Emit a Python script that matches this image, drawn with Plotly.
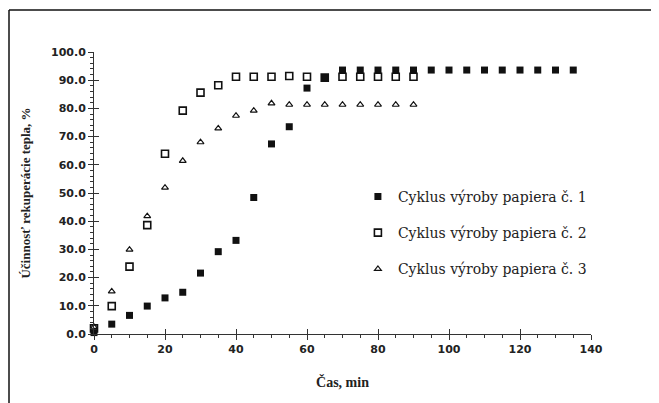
import plotly.graph_objects as go

time_1 = [0, 5, 10, 15, 20, 25, 30, 35, 40, 45, 50, 55, 60, 65, 70, 75, 80, 85, 90,
          95, 100, 105, 110, 115, 120, 125, 130, 135]
eff_1 = [0.5, 3.5, 6.6, 9.9, 12.8, 14.8, 21.6, 29.2, 33.2, 48.4, 67.4, 73.5, 87.2, 90.9,
         93.6, 93.6, 93.6, 93.6, 93.6, 93.6, 93.6, 93.6, 93.6, 93.6, 93.6, 93.6, 93.6, 93.6]

time_2 = [0, 5, 10, 15, 20, 25, 30, 35, 40, 45, 50, 55, 60, 65, 70, 75, 80, 85, 90]
eff_2 = [2.0, 9.9, 23.9, 38.6, 63.9, 79.2, 85.6, 88.2, 91.2, 91.2, 91.2, 91.5, 91.2, 90.9,
         91.2, 91.2, 91.2, 91.2, 91.2]

time_3 = [0, 5, 10, 15, 20, 25, 30, 35, 40, 45, 50, 55, 60, 65, 70, 75, 80, 85, 90]
eff_3 = [2.5, 15.1, 29.9, 41.8, 51.9, 61.4, 68.0, 72.9, 77.4, 79.2, 81.8, 81.3, 81.3, 81.3,
         81.3, 81.3, 81.3, 81.3, 81.3]

names = ["Cyklus výroby papiera č. 1", "Cyklus výroby papiera č. 2", "Cyklus výroby papiera č. 3"]

x_ticks = [0, 20, 40, 60, 80, 100, 120, 140]
y_ticks = [0, 10, 20, 30, 40, 50, 60, 70, 80, 90, 100]

fig = go.Figure()
fig.add_trace(go.Scatter(x=time_1, y=eff_1, mode="markers", name=names[0], legendgroup="1",
                         cliponaxis=False,
                         marker=dict(symbol="square", size=7, color="#111111")))
fig.add_trace(go.Scatter(x=time_2, y=eff_2, mode="markers", name=names[1], legendgroup="2",
                         cliponaxis=False,
                         marker=dict(symbol="square-open", size=7, color="#111111",
                                     line=dict(width=1.6))))
fig.add_trace(go.Scatter(x=time_3, y=eff_3, mode="markers", name=names[2], legendgroup="3",
                         cliponaxis=False,
                         marker=dict(symbol="triangle-up-open", size=6, color="#111111",
                                     line=dict(width=1.2))))
# dummy trace for overlay axes (inside ticks to make crossing ticks)
fig.add_trace(go.Scatter(x=[None], y=[None], xaxis="x2", yaxis="y2", showlegend=False,
                         hoverinfo="skip"))

tickfont = dict(family="DejaVu Sans", size=11, color="#222222", weight="bold")
axis_col = "#333333"

ML, MR, MT, MB = 86, 76, 44, 77
W, H = 659, 403
pw = W - ML - MR
ph = H - MT - MB

fig.update_layout(
    width=W, height=H,
    margin=dict(l=ML, r=MR, t=MT, b=MB),
    paper_bgcolor="white", plot_bgcolor="white",
    showlegend=True,
    legend=dict(x=0.531, y=0.543, xanchor="left", yanchor="top",
                font=dict(family="DejaVu Serif", size=14, color="#222222"),
                tracegroupgap=15, itemwidth=30, bgcolor="rgba(0,0,0,0)"),
    xaxis=dict(range=[0, 140], tickvals=x_ticks, ticktext=[str(v) for v in x_ticks],
               showgrid=False, zeroline=False, showline=True, linecolor=axis_col, linewidth=1,
               ticks="outside", ticklen=5, tickcolor=axis_col, tickfont=tickfont,
               minor=dict(dtick=5, ticks="outside", ticklen=3, tickcolor=axis_col),
               title=dict(text="Čas, min", standoff=21,
                          font=dict(family="Liberation Serif", size=14, color="#222222",
                                    weight="bold"))),
    yaxis=dict(range=[0, 100], tickvals=y_ticks, ticktext=[f"{v:.1f}" for v in y_ticks],
               showgrid=False, zeroline=False, showline=True, linecolor=axis_col, linewidth=1,
               ticks="outside", ticklen=5, tickcolor=axis_col, tickfont=tickfont,
               minor=dict(dtick=2, ticks="outside", ticklen=3, tickcolor=axis_col),
               title=dict(text="Účinnosť rekuperácie tepla, %", standoff=17,
                          font=dict(family="Liberation Serif", size=13, color="#222222",
                                    weight="bold"))),
    xaxis2=dict(range=[0, 140], overlaying="x", tickvals=x_ticks, showticklabels=False,
                showgrid=False, zeroline=False, showline=False, ticks="inside", ticklen=5,
                tickcolor=axis_col, anchor="y2"),
    yaxis2=dict(range=[0, 100], overlaying="y", tickvals=y_ticks, showticklabels=False,
                showgrid=False, zeroline=False, showline=False, ticks="inside", ticklen=5,
                tickcolor=axis_col, anchor="x2"),
)

# outer frame (left and top edges); page has an 8px body margin
fx = (1 - ML) / pw
fy = (ph + MT - 2) / ph
fig.add_shape(type="line", xref="paper", yref="paper", x0=fx, x1=fx, y0=fy, y1=-MB / ph - 0.05,
              line=dict(color="#111111", width=1.5))
fig.add_shape(type="line", xref="paper", yref="paper", x0=fx, x1=(W - ML) / pw + 0.05, y0=fy, y1=fy,
              line=dict(color="#111111", width=1.5))

fig.write_html("out.html")
